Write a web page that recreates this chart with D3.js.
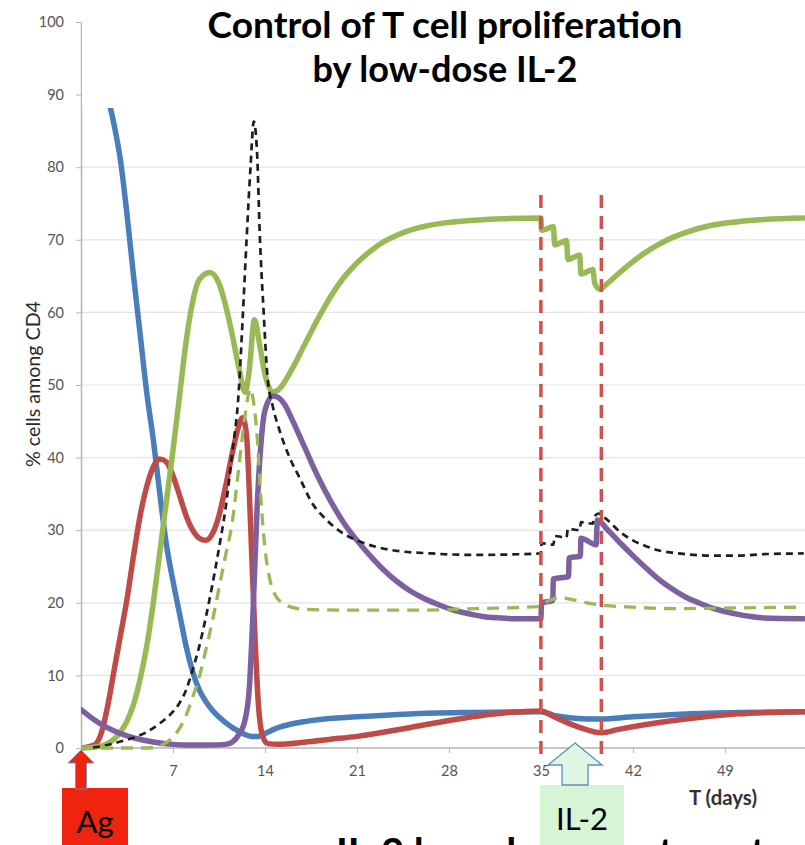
<!DOCTYPE html>
<html><head><meta charset="utf-8">
<script src="https://cdn.jsdelivr.net/npm/d3@7"></script>
<style>body{margin:0;background:#fff;} svg{display:block;}</style>
</head><body>
<svg id="c" width="805" height="845"></svg>
<script>
// ---------- data ----------
const xTicks = [7, 14, 21, 28, 35, 42, 49];
const yTicks = [0, 10, 20, 30, 40, 50, 60, 70, 80, 90, 100];
const gridValues = [10, 20, 30, 40, 50, 60, 70, 80, 90, 100];
const doseMarkers = [35, 39.6];
const titleLines = ["Control of T cell proliferation", "by low-dose IL-2"];

const blueSeries = [[0,100],[1,96.5],[2,90],[2.5,86],[3,81],[3.5,73.5],[4,65],[4.5,57],[5,49],[5.5,42.5],[6,35],[6.5,28],[7,23],[7.5,18.5],[8,14],[8.5,10.5],[9,8],[9.5,6.4],[10,5.2],[11,3.5],[12,2.3],[13,1.6],[13.5,1.6],[14,2.0],[15,2.8],[16,3.3],[18,3.9],[21,4.3],[25,4.7],[30,4.9],[35,5.0],[36,4.5],[37,4.2],[38.5,4.0],[39.6,4.0],[42,4.3],[46,4.7],[50,4.9],[55,5.0]];
const redSeries = [[0,0],[1,0.4],[1.5,1.8],[2,5.5],[2.5,10.5],[3,15.5],[3.5,20.5],[4,26.5],[4.5,32],[5,36],[5.5,38.7],[6,39.8],[6.5,39.4],[7,37.5],[7.5,34.8],[8,32],[8.5,30],[9,28.9],[9.5,28.6],[10,29.5],[10.5,32],[11,36],[11.5,40.5],[12,44.3],[12.3,45.5],[12.6,43],[12.9,31],[13.2,17],[13.5,6],[13.8,1.8],[14.2,0.6],[15,0.5],[17,0.8],[19,1.2],[21,1.6],[25,2.8],[28,3.8],[32,4.8],[35,5.1],[36,4.3],[37,3.5],[38,2.8],[39.6,2.1],[41,2.6],[44,3.5],[47,4.2],[50,4.7],[55,5.0]];
const greenSeries = [[0,0],[1,0.1],[2,0.6],[3,2.2],[3.5,3.7],[4,6],[4.5,9.5],[5,14],[5.5,20],[6,27],[6.5,34],[7,41],[7.5,48.5],[8,56],[8.5,61.5],[9,64.5],[9.8,65.5],[10.5,64],[11,61],[11.5,57],[12,52.5],[12.5,49],[12.8,52],[13.2,59],[13.6,55.5],[14,51.5],[14.6,49],[15,49.3],[16,52],[17,55.5],[18,59],[19,62.2],[20,64.8],[21,66.8],[22,68.4],[23,69.7],[24,70.6],[25,71.3],[26,71.8],[28,72.4],[30,72.7],[32,72.9],[35,73.0],[35.05,71.3],[35.95,71.8],[36.05,69.3],[36.95,69.9],[37.05,67.3],[37.95,67.9],[38.05,65.3],[38.95,65.9],[39.1,64.0],[39.5,63.2],[40,63.9],[41,65.5],[42,67.0],[43,68.3],[44,69.4],[45,70.3],[46,71.0],[48,72.0],[50,72.5],[52,72.8],[55,73.0]];
const purpleSeries = [[0,5.3],[1,3.9],[2,2.8],[3,2.0],[4,1.4],[5,1.0],[6,0.7],[7,0.5],[8,0.4],[10,0.4],[11,0.5],[11.5,0.8],[12,1.8],[12.5,4],[12.8,8],[13.1,19],[13.4,33],[13.7,42],[14,46.5],[14.6,48.5],[15,48.3],[15.5,47.3],[16,45.5],[17,41.5],[18,37.5],[19,34],[20,31],[21,28.6],[22,26.5],[23,24.6],[24,23],[25,21.7],[26,20.7],[27,19.9],[28,19.2],[29,18.7],[30,18.3],[31,18.0],[32,17.9],[33,17.8],[35,17.8],[35.05,20.0],[35.9,20.3],[35.95,23.3],[37.1,23.6],[37.15,26.2],[38.0,26.4],[38.05,28.9],[39.2,28.0],[39.3,31.4],[40,30.2],[41,28.3],[42,26.5],[43,24.8],[44,23.2],[45,21.9],[46,20.8],[47,20.0],[48,19.3],[49,18.8],[50,18.4],[51,18.1],[52,17.9],[55,17.8]];
const blackDashSeries = [[0,0],[1,0.1],[2,0.4],[3,0.9],[4,1.4],[5,2.2],[6,3.4],[7,5],[7.5,6.2],[8,8],[8.5,10.8],[9,14],[9.5,18],[10,22.5],[10.5,27.5],[11,33],[11.5,40.5],[12,49],[12.3,59],[12.6,70],[12.9,80],[13.15,86.3],[13.4,82],[13.6,71],[13.9,60],[14.2,51],[14.6,47],[15.1,43.8],[16,39.5],[16.7,37],[17.5,34],[18.7,31.4],[20,29.5],[21,28.6],[23.5,27.3],[26.6,26.8],[30,26.6],[35,26.8],[35.05,28.2],[35.95,28.0],[36.05,29.2],[36.95,29.0],[37.05,30.2],[37.95,30.0],[38.05,31.1],[38.95,30.9],[39.05,31.8],[39.4,32.3],[40,31.5],[41,29.8],[42,28.6],[43,27.8],[44,27.2],[45,26.9],[46,26.7],[48,26.5],[50,26.5],[52,26.7],[55,26.8]];
const greenDashSeries = [[0,0],[5,0],[6,0.3],[7,1.5],[7.5,2.7],[8,4.5],[8.5,7],[9,9.8],[9.5,13.5],[10,17.5],[10.5,22],[11,26.5],[11.5,31],[12,38.5],[12.5,46],[12.9,49.5],[13.1,48],[13.4,43],[13.7,34],[14,27.5],[14.4,23],[14.8,21],[15.3,20],[16,19.4],[17,19.1],[20,19.0],[26,19.0],[30,19.2],[35,19.5],[35.5,20.2],[36.5,20.7],[37.5,20.4],[38.5,20.0],[39.6,19.7],[42,19.4],[45,19.2],[50,19.3],[55,19.4]];

// ---------- layout ----------
const svg = d3.select("#c");
const x = d3.scaleLinear().domain([0, 55]).range([81, 803.7]);
const y = d3.scaleLinear().domain([0, 100]).range([748, 22]);
const FONT = "Lato, 'Open Sans', sans-serif";

function fitWidth(sel, target) {
  const n = sel.node();
  const fs = parseFloat(sel.attr("font-size"));
  const w = n.getComputedTextLength();
  sel.attr("font-size", (fs * target / w).toFixed(2));
}

svg.append("defs").append("clipPath").attr("id", "plotclip")
  .append("rect").attr("x", x(0)).attr("y", 108).attr("width", 805 - x(0)).attr("height", 700);

// gridlines
svg.append("g").selectAll("line").data(gridValues).join("line")
  .attr("x1", x(0)).attr("x2", 805)
  .attr("y1", d => y(d)).attr("y2", d => y(d))
  .attr("stroke", "#e3e3e3").attr("stroke-width", 1.2);

// axes
const xAxis = svg.append("g").attr("transform", `translate(0,${y(0)})`)
  .call(d3.axisBottom(x).tickValues(xTicks).tickSize(5).tickPadding(13).tickSizeOuter(0));
xAxis.select(".domain").attr("stroke", "#b5b5b5").attr("stroke-width", 1.5).attr("d", `M${x(0)},0H805`);
xAxis.selectAll(".tick line").attr("stroke", "#b5b5b5");
xAxis.selectAll("text").attr("font-family", FONT).attr("font-size", 14.5).attr("fill", "#555");

const yAxis = svg.append("g").attr("transform", `translate(${x(0)},0)`)
  .call(d3.axisLeft(y).tickValues(yTicks).tickSize(5).tickPadding(12).tickSizeOuter(0));
yAxis.select(".domain").attr("stroke", "#b5b5b5").attr("stroke-width", 1.5);
yAxis.selectAll(".tick line").attr("stroke", "#b5b5b5");
yAxis.selectAll("text").attr("font-family", FONT).attr("font-size", 14.5).attr("fill", "#555");

// lines
const plot = svg.append("g").attr("clip-path", "url(#plotclip)");
const line = d3.line().x(d => x(d[0])).y(d => y(d[1])).curve(d3.curveMonotoneX);
const solids = [
  {data: blueSeries, color: "#4a7ebb"},
  {data: redSeries, color: "#be4b48"},
  {data: greenSeries, color: "#98b954"},
  {data: purpleSeries, color: "#7d60a0"}
];
solids.forEach(s => plot.append("path").attr("d", line(s.data)).attr("fill", "none")
  .attr("stroke", s.color).attr("stroke-width", 5.5).attr("stroke-linejoin", "round").attr("stroke-linecap", "round"));
plot.append("path").attr("d", line(blackDashSeries)).attr("fill", "none")
  .attr("stroke", "#1e1e1e").attr("stroke-width", 2.7).attr("stroke-dasharray", "7,5");
plot.append("path").attr("d", line(greenDashSeries)).attr("fill", "none")
  .attr("stroke", "#98b954").attr("stroke-width", 3.3).attr("stroke-dasharray", "12,8");

// dose markers
svg.append("g").selectAll("line").data(doseMarkers).join("line")
  .attr("x1", d => x(d)).attr("x2", d => x(d))
  .attr("y1", 195).attr("y2", 762)
  .attr("stroke", "#d0524e").attr("stroke-width", 3.5).attr("stroke-dasharray", "13,8");

// title
svg.append("rect").attr("x", x(0) + 1).attr("y", 0).attr("width", 805).attr("height", 108).attr("fill", "#fff");
const t1 = svg.append("text").attr("x", 445).attr("y", 38).attr("text-anchor", "middle")
  .attr("font-family", FONT).attr("font-weight", "bold").attr("font-size", 30).attr("fill", "#000").text(titleLines[0]);
fitWidth(t1, 475);
const t2 = svg.append("text").attr("x", 445).attr("y", 82).attr("text-anchor", "middle")
  .attr("font-family", FONT).attr("font-weight", "bold").attr("font-size", 30).attr("fill", "#000").text(titleLines[1]);
fitWidth(t2, 265);

// axis titles
const yt = svg.append("text").attr("transform", "translate(40,384) rotate(-90)").attr("text-anchor", "middle")
  .attr("font-family", FONT).attr("font-size", 16).attr("fill", "#2a2a2a").text("% cells among CD4");
fitWidth(yt, 166);
const xt = svg.append("text").attr("x", 723).attr("y", 805).attr("text-anchor", "middle")
  .attr("font-family", FONT).attr("font-weight", "bold").attr("font-size", 15).attr("fill", "#333").text("T (days)");
fitWidth(xt, 68);

// bottom caption (cut off by the frame, as in the reference)
svg.append("text").attr("x", 336).attr("y", 867).attr("font-family", FONT).attr("font-weight", "bold")
  .attr("font-size", 40).attr("fill", "#000").text("IL-2 low-dose treatment");

// Ag annotation
const ax = x(0);
svg.append("rect").attr("x", 62).attr("y", 788).attr("width", 66).attr("height", 60).attr("fill", "#f0230e");
svg.append("path").attr("d", `M${ax},750 L${ax+13},763 L${ax+5.5},763 L${ax+5.5},789 L${ax-5.5},789 L${ax-5.5},763 L${ax-13},763 Z`)
  .attr("fill", "#ee2410").attr("stroke", "#6f8fc0").attr("stroke-width", 0.8);
const ag = svg.append("text").attr("x", 95).attr("y", 833).attr("text-anchor", "middle")
  .attr("font-family", FONT).attr("font-size", 33).attr("fill", "#000").text("Ag");
fitWidth(ag, 37);

// IL-2 annotation
const ix = x(37.6);
svg.append("rect").attr("x", 540).attr("y", 785).attr("width", 84).attr("height", 62).attr("fill", "#d6f5d4");
svg.append("path").attr("d", `M${ix},743 L${ix+27},765 L${ix+13},765 L${ix+13},785 L${ix-13},785 L${ix-13},765 L${ix-27},765 Z`)
  .attr("fill", "#def6e3").attr("stroke", "#5f8fc2").attr("stroke-width", 1.3);
const il = svg.append("text").attr("x", 582).attr("y", 830).attr("text-anchor", "middle")
  .attr("font-family", FONT).attr("font-size", 33).attr("fill", "#000").text("IL-2");
fitWidth(il, 52);
</script>
</body></html>
